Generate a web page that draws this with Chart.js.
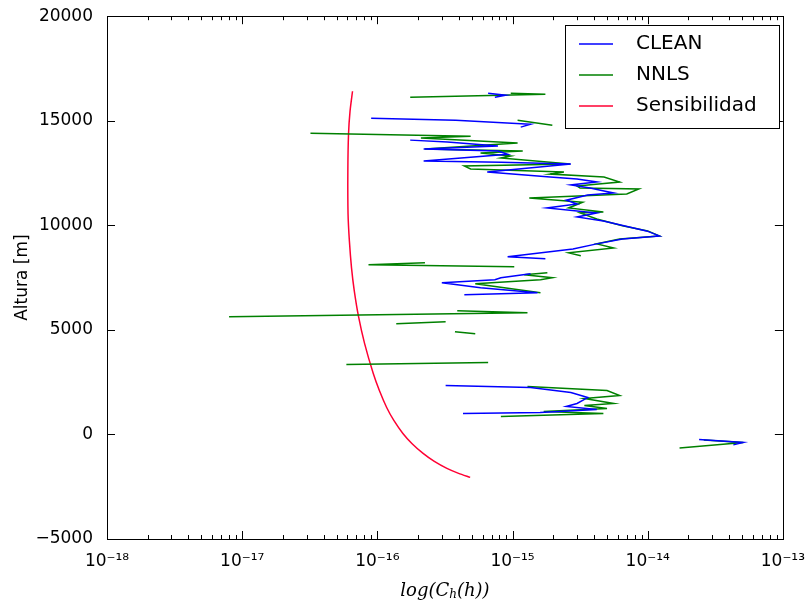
<!DOCTYPE html>
<html>
<head>
<meta charset="utf-8">
<script src="https://cdn.jsdelivr.net/npm/chart.js@4.4.0/dist/chart.umd.min.js"></script>
<style>
  html, body { margin: 0; padding: 0; background: #fff; }
</style>
</head>
<body>
<canvas id="chart" width="809" height="606"></canvas>
<script>
// altitude [m] / C_h(h) profiles, null marks a gap in the profile
const cleanAlt = [16317, 16221, 16126, null,
  15124, 15029, 14838, 14695, null,
  14074, 13979, 13788, 13645, 13550, 13400, 13073, 13020, 12930, 12548, 12309, 12210, 12071, 11930,
  11784, 11641, 11546, 11450, 11200, 11020, 10830, 10592, 10400, 10210, 9733, 9494, 9350, 9113, 8870,
  8492, 8397, null,
  7681, 7491, 7395, 7252, 7013, 6775, 6679, null,
  2338, 2242, 2004, 1765, 1479, 1336, 1193, 1050, 1002, null,
  -239, -382, -500];
const cleanVal = [6.6e-16, 8.9e-16, 7.4e-16, null,
  9.0e-17, 3.8e-16, 1.36e-15, 1.15e-15, null,
  1.75e-16, 3.3e-16, 7.8e-16, 2.2e-16, 7.8e-16, 9.2e-16, 2.2e-16, 8.2e-16, 2.7e-15, 6.5e-16, 1.9e-15, 3.0e-15, 4.2e-15, 2.7e-15,
  3.75e-15, 4.75e-15, 5.6e-15, 3.6e-15, 2.5e-15, 3.0e-15, 1.8e-15, 4.2e-15, 3.0e-15, 4.7e-15, 9.8e-15, 1.22e-14, 6.5e-15, 4.2e-15, 2.8e-15,
  9.2e-16, 1.75e-15, null,
  1.36e-15, 8.2e-16, 7.4e-16, 3.0e-16, 5.8e-16, 1.53e-15, 4.4e-16, null,
  3.2e-16, 1.36e-15, 2.7e-15, 3.6e-15, 3.0e-15, 2.5e-15, 4.2e-15, 1.6e-15, 4.3e-16, null,
  2.4e-14, 5.1e-14, 4.3e-14];

const nnlsAlt = [16317, 16270, 16126, null,
  15029, 14790, null,
  14408, 14265, 14170, 13932, 13645, 13550, 13454, 13311, 13216, 12930, 12834, 12691, 12548, 12452,
  12309, 12071, 11880, 11784, 11737, 11498, 11307, 11100, 10830, 10640, 10592, 10300, 9980, 9733, 9494,
  9350, 9113, 8920, 8683, 8540, null,
  8206, 8111, 8015, null,
  7729, 7634, 7491, 7395, 7204, 6775, null,
  5916, 5821, 5630, null,
  5391, 5296, null,
  4914, 4819, null,
  3435, 3340, null,
  2290, 2099, 1861, 1718, 1479, 1384, 1240, 1100, 1002, 859, null,
  -270, -382, -650];
const nnlsVal = [9.7e-16, 1.75e-15, 1.75e-16, null,
  1.09e-15, 1.97e-15, null,
  3.2e-17, 4.9e-16, 2.1e-16, 1.09e-15, 2.25e-16, 1.19e-15, 5.8e-16, 9.7e-16, 8.2e-16, 2.67e-15, 4.4e-16, 4.9e-16, 2.4e-15, 1.9e-15,
  4.75e-15, 6.2e-15, 3.0e-15, 3.16e-15, 8.6e-15, 7.0e-15, 1.33e-15, 3.3e-15, 2.6e-15, 4.7e-15, 3.16e-15, 4.2e-15, 6.5e-15, 1.0e-14, 1.22e-14,
  6.2e-15, 4.2e-15, 5.6e-15, 2.6e-15, 3.2e-15, null,
  2.25e-16, 8.6e-17, 1.03e-15, null,
  1.81e-15, 1.22e-15, 1.97e-15, 1.61e-15, 5.3e-16, 1.61e-15, null,
  3.9e-16, 1.29e-15, 8.0e-18, null,
  3.2e-16, 1.38e-16, null,
  3.75e-16, 5.3e-16, null,
  6.6e-16, 5.9e-17, null,
  1.29e-15, 5.0e-15, 6.2e-15, 3.4e-15, 5.6e-15, 3.4e-15, 5.0e-15, 1.7e-15, 4.7e-15, 8.2e-16, null,
  2.6e-14, 5.1e-14, 1.72e-14];

const sensAlt = [16412, 15458, 14361, 12595, 10544, 9255, 7968, 6870, 5630, 4342, 2910, 2099, 1288, 668, 48,
  -430, -906, -1288, -1622, -1861, -2052];
const sensVal = [6.55e-17, 6.28e-17, 6.12e-17, 6.05e-17, 6.07e-17, 6.21e-17, 6.44e-17, 6.75e-17, 7.26e-17, 8.05e-17, 9.33e-17,
  1.035e-16, 1.172e-16, 1.324e-16, 1.545e-16, 1.80e-16, 2.18e-16, 2.64e-16, 3.27e-16, 3.99e-16, 4.86e-16];

const yTicks = [-5000, 0, 5000, 10000, 15000, 20000];
const xDecades = [-18, -17, -16, -15, -14, -13];

function toPoints(alt, val) {
  return alt.map((a, i) => a === null ? { x: null, y: null } : { x: val[i], y: a });
}

const SUP = { '-': '\u207B', '0': '\u2070', '1': '\u00B9', '2': '\u00B2', '3': '\u00B3', '4': '\u2074',
  '5': '\u2075', '6': '\u2076', '7': '\u2077', '8': '\u2078', '9': '\u2079' };
function powLabel(e) {
  return '10' + String(e).split('').map(c => SUP[c]).join('');
}

Chart.defaults.font.family = '"DejaVu Sans", sans-serif';
Chart.defaults.color = '#000';

// matplotlib-like frame with inward ticks on all four sides, plus axis title
const framePlugin = {
  id: 'frame',
  afterDraw(chart) {
    const { ctx, chartArea: a, scales: { x, y } } = chart;
    ctx.save();
    ctx.strokeStyle = '#000';
    ctx.lineWidth = 1;
    ctx.beginPath();
    xDecades.forEach(e => {
      for (let m = 1; m <= 9; m++) {
        if (e === -13 && m > 1) break;
        const px = Math.round(x.getPixelForValue(m * Math.pow(10, e))) + 0.5;
        const len = m === 1 ? 8 : 4;
        ctx.moveTo(px, a.bottom); ctx.lineTo(px, a.bottom - len);
        ctx.moveTo(px, a.top); ctx.lineTo(px, a.top + len);
      }
    });
    yTicks.forEach(v => {
      const py = Math.round(y.getPixelForValue(v)) + 0.5;
      ctx.moveTo(a.left, py); ctx.lineTo(a.left + 8, py);
      ctx.moveTo(a.right, py); ctx.lineTo(a.right - 8, py);
    });
    ctx.stroke();
    ctx.strokeRect(Math.round(a.left) + 0.5, Math.round(a.top) + 0.5,
      Math.round(a.right - a.left), Math.round(a.bottom - a.top));

    // x title: log(C_h(h))
    const cx = (a.left + a.right) / 2;
    const ty = 591;
    const big = 'italic 18px "DejaVu Serif", serif';
    const small = 'italic 12px "DejaVu Serif", serif';
    const parts = [['log(C', big, 0], ['h', small, 4], ['(h))', big, 0]];
    let w = 0;
    parts.forEach(p => { ctx.font = p[1]; w += ctx.measureText(p[0]).width; });
    let cur = cx - w / 2;
    ctx.fillStyle = '#000';
    ctx.textBaseline = 'middle';
    ctx.textAlign = 'left';
    parts.forEach(p => {
      ctx.font = p[1];
      ctx.fillText(p[0], cur, ty + p[2]);
      cur += ctx.measureText(p[0]).width;
    });
    ctx.restore();
  }
};

// legend box drawn inside the plot, upper right
const boxLegend = {
  id: 'boxLegend',
  afterDraw(chart) {
    const { ctx } = chart;
    const bx = 565, by = 25, bw = 214, bh = 103;
    ctx.save();
    ctx.fillStyle = '#fff';
    ctx.fillRect(bx, by, bw, bh);
    ctx.strokeStyle = '#000';
    ctx.lineWidth = 1;
    ctx.strokeRect(bx + 0.5, by + 0.5, bw, bh);
    ctx.font = '20px "DejaVu Sans", sans-serif';
    ctx.textBaseline = 'middle';
    ctx.textAlign = 'left';
    chart.data.datasets.forEach((ds, i) => {
      const ry = 44 + i * 31;
      ctx.strokeStyle = ds.borderColor;
      ctx.lineWidth = 1.5;
      ctx.beginPath();
      ctx.moveTo(579, ry);
      ctx.lineTo(613, ry);
      ctx.stroke();
      ctx.fillStyle = '#000';
      ctx.fillText(ds.label, 636, ry);
    });
    ctx.restore();
  }
};

new Chart(document.getElementById('chart'), {
  type: 'scatter',
  data: {
    datasets: [
      { label: 'CLEAN', data: toPoints(cleanAlt, cleanVal), borderColor: '#0000ff', showLine: true, borderWidth: 1.5, pointRadius: 0, spanGaps: false },
      { label: 'NNLS', data: toPoints(nnlsAlt, nnlsVal), borderColor: '#008000', showLine: true, borderWidth: 1.5, pointRadius: 0, spanGaps: false },
      { label: 'Sensibilidad', data: toPoints(sensAlt, sensVal), borderColor: '#ff0033', showLine: true, borderWidth: 1.5, pointRadius: 0, tension: 0.25 }
    ]
  },
  options: {
    responsive: false,
    animation: false,
    events: [],
    layout: { padding: { top: 14, right: 22, left: 0, bottom: 0 } },
    plugins: {
      legend: { display: false },
      tooltip: { enabled: false }
    },
    scales: {
      x: {
        type: 'logarithmic',
        min: 1e-18,
        max: 1e-13,
        grid: { display: false },
        border: { display: false },
        afterBuildTicks: (scale) => { scale.ticks = xDecades.map(e => ({ value: Math.pow(10, e) })); },
        afterFit: (scale) => { scale.height = 67; },
        ticks: {
          autoSkip: false,
          maxRotation: 0,
          padding: 4,
          font: { size: 17 },
          callback: (v) => powLabel(Math.round(Math.log10(v)))
        }
      },
      y: {
        min: -5000,
        max: 20000,
        grid: { display: false },
        border: { display: false },
        afterBuildTicks: (scale) => { scale.ticks = yTicks.map(v => ({ value: v })); },
        afterFit: (scale) => { scale.width = 107; },
        title: { display: true, text: 'Altura [m]', font: { size: 17 }, padding: { top: 12, bottom: 0 } },
        ticks: {
          padding: 6,
          font: { size: 17 },
          callback: (v) => String(v).replace('-', '\u2212')
        }
      }
    }
  },
  plugins: [framePlugin, boxLegend]
});
</script>
</body>
</html>
